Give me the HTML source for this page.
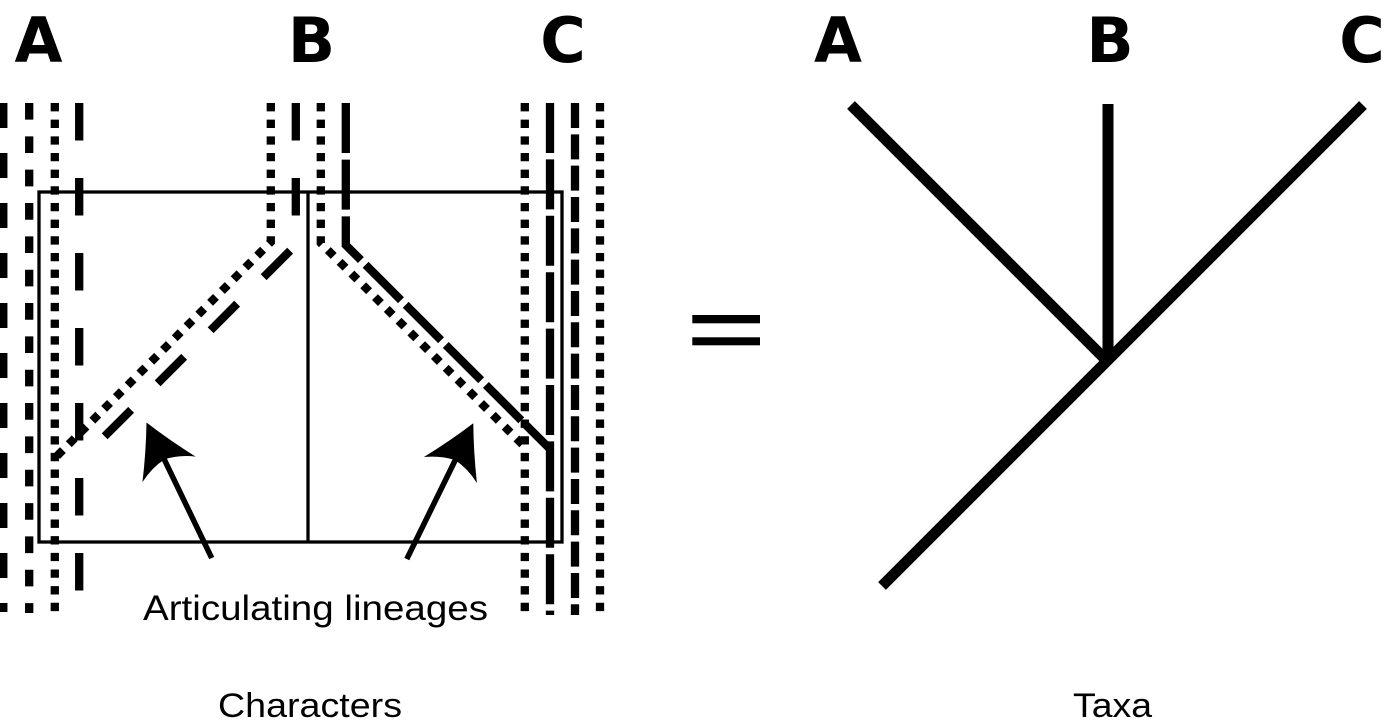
<!DOCTYPE html>
<html><head><meta charset="utf-8"><style>
html,body{margin:0;padding:0;background:#fff;}
svg{display:block;}
</style></head><body>
<svg width="1384" height="728" viewBox="0 0 1384 728" xmlns="http://www.w3.org/2000/svg">
<rect width="1384" height="728" fill="#fff"/>
<g font-family="'DejaVu Sans', sans-serif" font-weight="bold" font-size="62" text-anchor="middle" fill="#000">
<text x="38.5" y="62">A</text>
<text x="311.5" y="62">B</text>
<text x="563" y="62">C</text>
<text x="838" y="62">A</text>
<text x="1110" y="62">B</text>
<text x="1362" y="62">C</text>
</g>
<g stroke="#000" stroke-width="3.3" fill="none">
<rect x="39" y="192" width="523" height="350"/>
<line x1="308" y1="192" x2="308" y2="542"/>
</g>
<g stroke="#000" stroke-width="8.3" fill="none" stroke-linejoin="miter" stroke-miterlimit="10" stroke-linecap="butt">
<line x1="3.3" y1="103" x2="3.3" y2="612" stroke-dasharray="25 25"/>
<line x1="29.2" y1="103" x2="29.2" y2="613" stroke-dasharray="16.67 16.67"/>
<line x1="54.8" y1="103" x2="54.8" y2="612" stroke-dasharray="8.33 8.33"/>
<line x1="79.2" y1="103" x2="79.2" y2="612" stroke-dasharray="37.5 37.5"/>
<polyline points="270.8,103 270.8,242 55,458" stroke-dasharray="8.33 8.33"/>
<polyline points="295.8,103 295.8,245 79,462" stroke-dasharray="37.5 37.5"/>
<polyline points="320.8,103 320.8,243 525,447" stroke-dasharray="8.33 8.33"/>
<polyline points="345.8,103 345.8,245 550,449" stroke-dasharray="50 6.67"/>
<line x1="524.8" y1="103" x2="524.8" y2="612" stroke-dasharray="8.33 8.33"/>
<line x1="550" y1="103" x2="550" y2="615" stroke-dasharray="50 6.4"/>
<line x1="575" y1="103" x2="575" y2="615" stroke-dasharray="25 6.33"/>
<line x1="600" y1="103" x2="600" y2="612" stroke-dasharray="8.33 8.33"/>
</g>
<g fill="#000">
<g transform="translate(146.5,422.5) rotate(-25.7)">
<path d="M0,0 Q-13,26 -29.5,52 Q-15,43 0,41 Q15,43 29.5,52 Q13,26 0,0Z"/>
<rect x="-2.75" y="30" width="5.5" height="120.4"/>
</g>
<g transform="translate(473.3,423.3) rotate(26.1)">
<path d="M0,0 Q-13,26 -29.5,52 Q-15,43 0,41 Q15,43 29.5,52 Q13,26 0,0Z"/>
<rect x="-2.75" y="30" width="5.5" height="121.2"/>
</g>
<rect x="692.3" y="315" width="67.7" height="8.3"/>
<rect x="692.3" y="337.3" width="67.7" height="8"/>
</g>
<g stroke="#000" stroke-width="11" stroke-linecap="butt" fill="none">
<line x1="851" y1="105" x2="1108" y2="362"/>
<line x1="1108" y1="104" x2="1108" y2="360"/>
<line x1="1363" y1="105" x2="882" y2="586"/>
</g>
<g font-family="'Liberation Sans', sans-serif" fill="#000">
<text x="143" y="620" font-size="35" textLength="345" lengthAdjust="spacingAndGlyphs">Articulating lineages</text>
<text x="218" y="717" font-size="34" textLength="184" lengthAdjust="spacingAndGlyphs">Characters</text>
<text x="1073" y="717" font-size="34" textLength="79" lengthAdjust="spacingAndGlyphs">Taxa</text>
</g>
</svg>
</body></html>
